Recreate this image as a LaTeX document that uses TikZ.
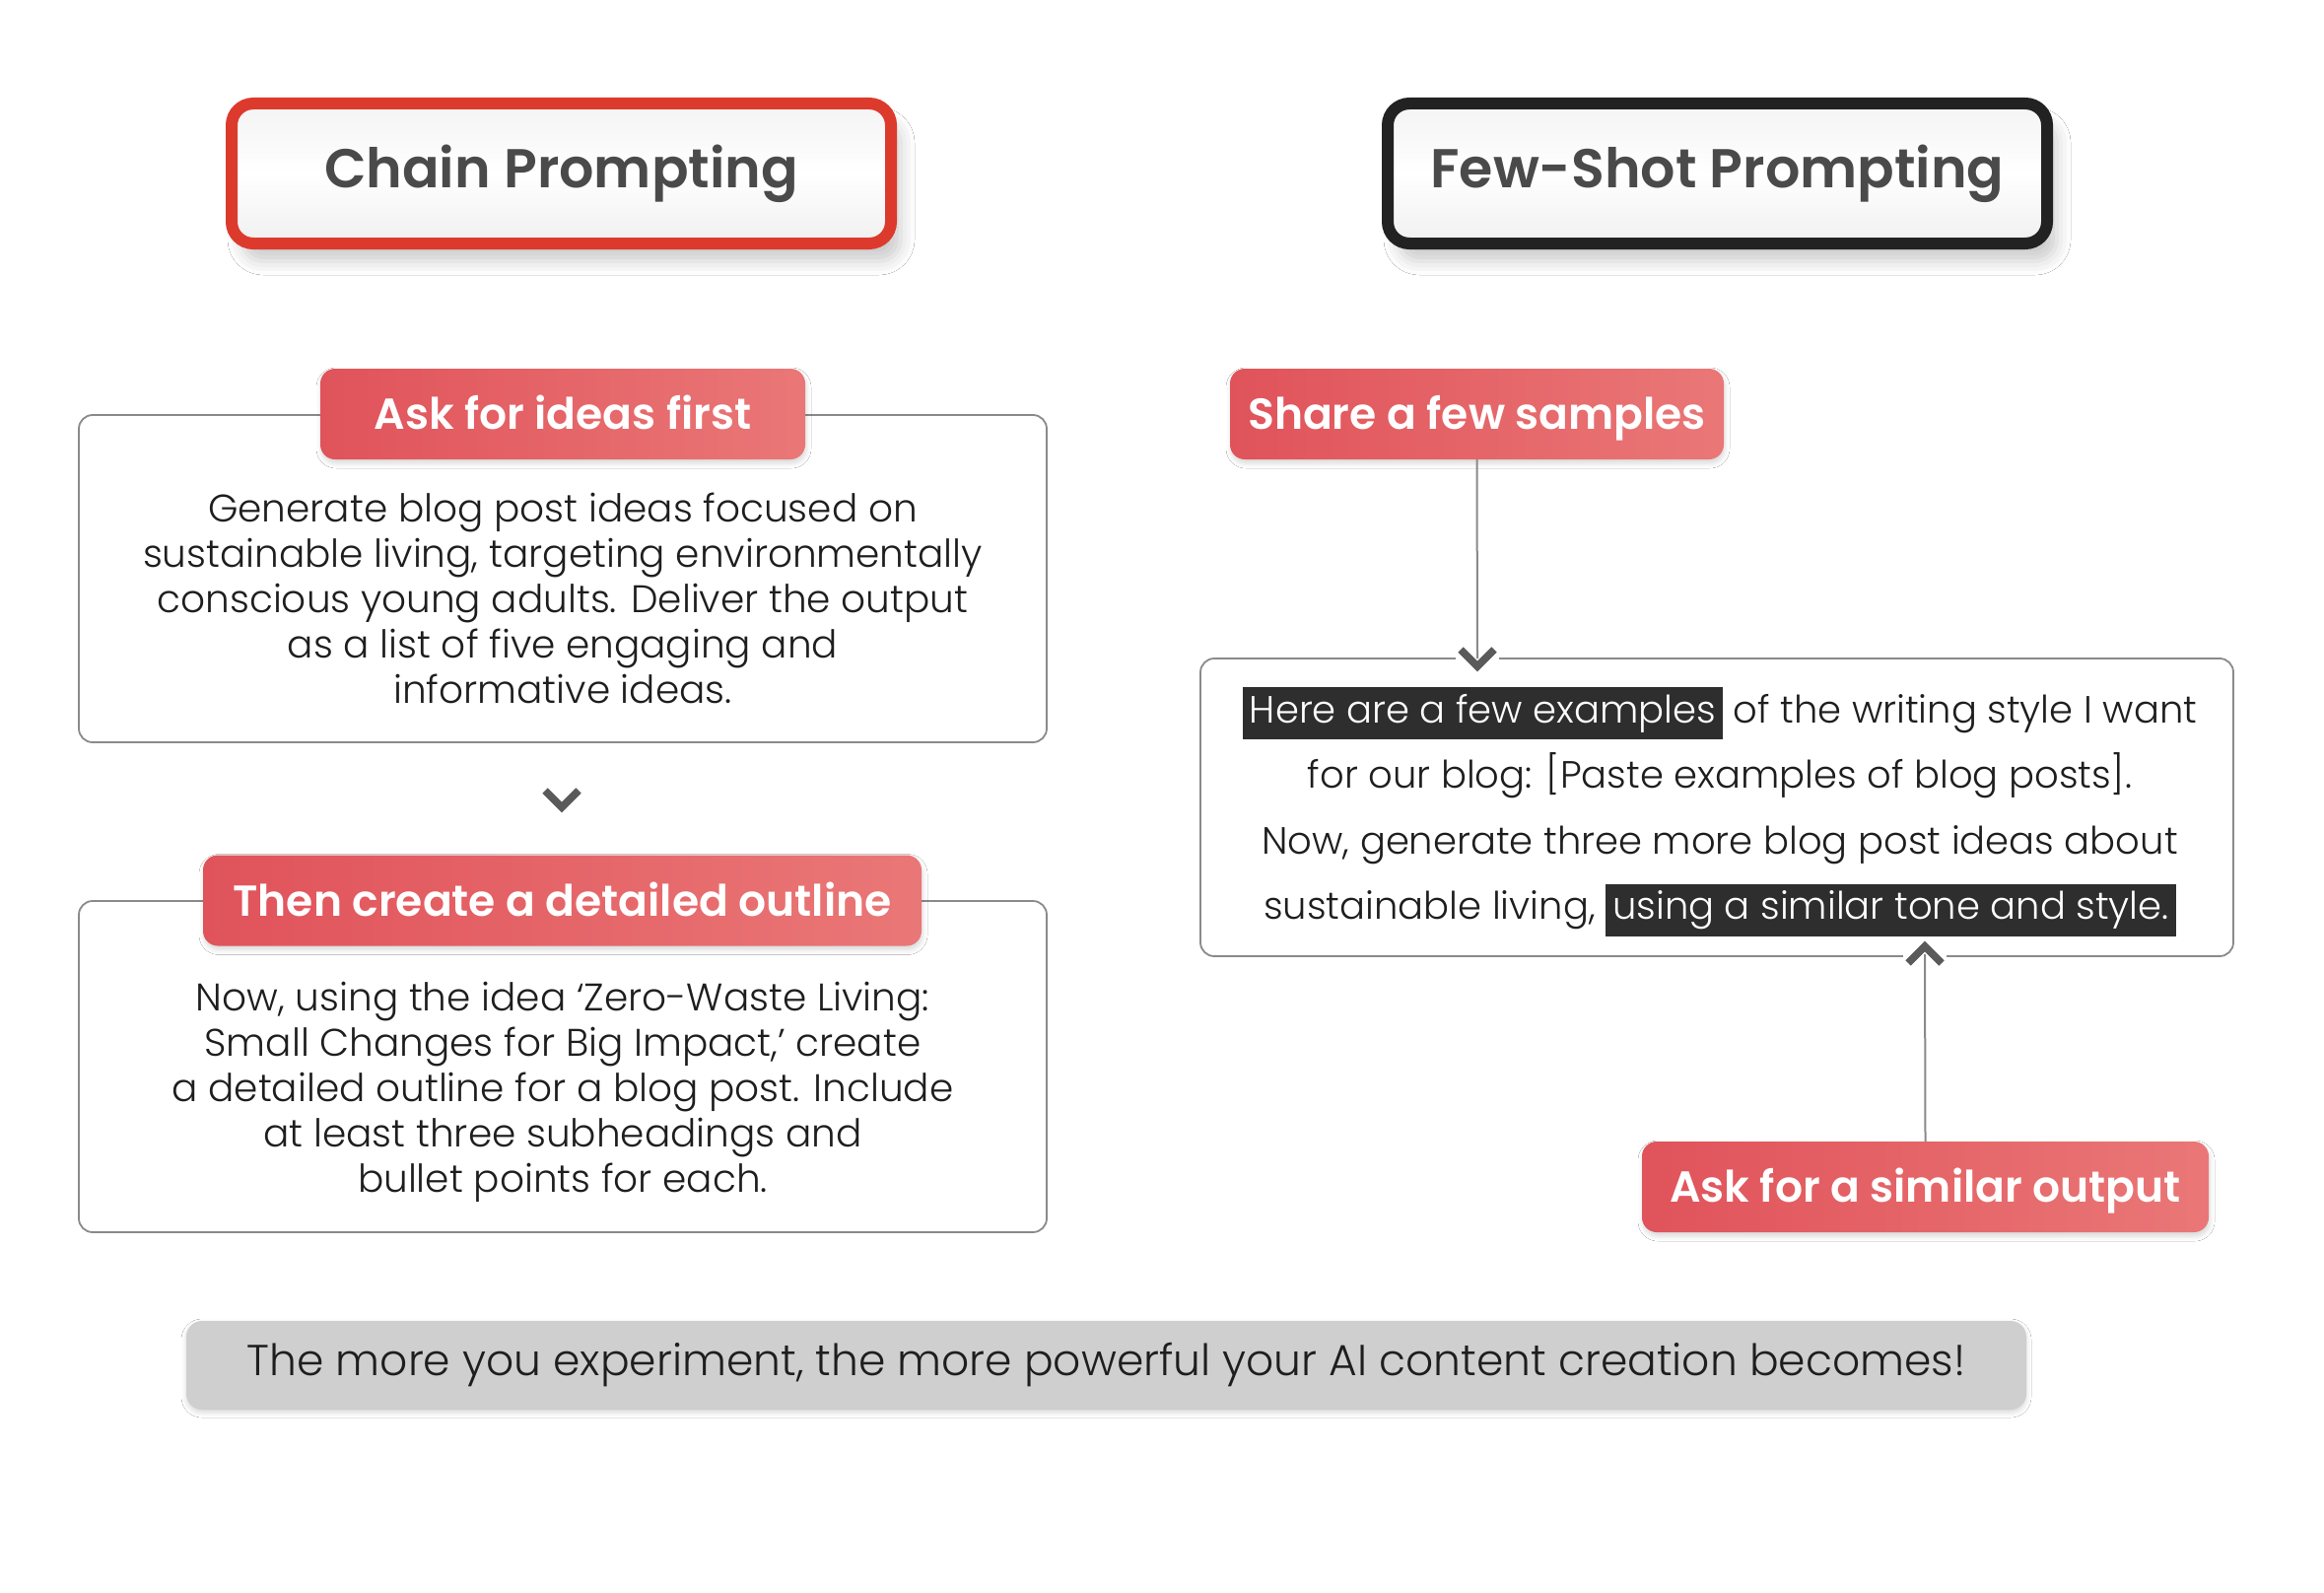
\documentclass[tikz,border=0pt]{standalone}
\usepackage{fontspec}
\setmainfont{Poppins}
\newfontfamily\lightfont{Poppins Light}
\newfontfamily\semifont{Poppins SemiBold}
\usetikzlibrary{shadows.blur,calc}
\definecolor{redA}{HTML}{E0535A}
\definecolor{redB}{HTML}{EA7777}
\definecolor{titleRed}{HTML}{DD3A2E}
\definecolor{titleBlack}{HTML}{222222}
\definecolor{titleText}{HTML}{4A4A4A}
\definecolor{boxLine}{HTML}{8A8A8A}
\definecolor{hlBg}{HTML}{2E2E2E}
\definecolor{chevGray}{HTML}{5A5A5A}
\definecolor{bannerGray}{HTML}{CFCFCF}
\definecolor{bodyText}{HTML}{1E1E1E}
\newcommand{\hlt}[1]{{\setlength{\fboxsep}{7pt}\colorbox{hlBg}{\textcolor{white}{#1}}}}
\tikzset{
  titlebox/.style={draw=#1, line width=12pt, rounded corners=22pt,
    minimum width=669pt, minimum height=142pt, top color=gray!9, bottom color=gray!12, middle color=white,
    text=titleText, font=\semifont\fontsize{55.5}{60}\selectfont,
    blur shadow={shadow xshift=10pt, shadow yshift=-18pt, shadow opacity=20, shadow blur radius=14pt}},
  panel/.style={draw=boxLine, line width=1.8pt, rounded corners=14pt, fill=white},
  redlabel/.style={rounded corners=15pt, left color=redA, right color=redB, text=white,
    font=\semifont\fontsize{44}{50}\selectfont, minimum height=92pt, text height=36pt, text depth=5pt,
    blur shadow={shadow xshift=1pt, shadow yshift=-4pt, shadow opacity=15, shadow blur radius=5pt}},
  bodytext/.style={align=center, text=bodyText, font=\lightfont\fontsize{39}{46}\selectfont},
  conn/.style={draw=boxLine, line width=2pt},
  chev/.style={draw=chevGray, line width=7.5pt, line join=miter},
  gap/.style={fill=white, draw=none, minimum width=44pt, minimum height=20pt, inner sep=0pt},
}
\begin{document}
\begin{tikzpicture}[x=1pt,y=-1pt]
\useasboundingbox[fill=white] (0,0) rectangle (2358,1616);

% titles
\node[titlebox=titleRed] (chainTitle) at (569.5,176) {\raisebox{-3pt}{Chain Prompting}};
\node[titlebox=titleBlack] (fewTitle) at (1742.5,176) {\raisebox{-3pt}{Few-Shot Prompting}};

% left column
\node[panel, minimum width=982pt, minimum height=332pt] (box1) at (571,587) {};
\node[bodytext] (text1) at (571,607) {Generate blog post ideas focused on\\sustainable living, targeting environmentally\\conscious young adults. Deliver the output\\as a list of five engaging and\\informative ideas.};
\node[redlabel, minimum width=492pt] (lab1) at (571,420) {Ask for ideas first};

\coordinate (chev1) at (570,819);
\draw[chev] ([shift={(-17,-17)}]chev1) -- (chev1) -- ([shift={(17,-17)}]chev1);

\node[panel, minimum width=982pt, minimum height=336pt] (box2) at (571,1082) {};
\node[bodytext] (text2) at (571,1107.5) {Now, using the idea ‘Zero-Waste Living:\\Small Changes for Big Impact,’ create\\a detailed outline for a blog post. Include\\at least three subheadings and\\bullet points for each.};
\node[redlabel, minimum width=729pt] (lab2) at (570.5,913.5) {Then create a detailed outline};

% right column
\node[panel, minimum width=1048pt, minimum height=302pt] (box3) at (1742,819) {};
\node[bodytext, font=\lightfont\fontsize{38.5}{66.6}\selectfont] (text3) at (1745,823.5) {\hlt{Here are a few examples} of the writing style I want\\for our blog: [Paste examples of blog posts].\\Now, generate three more blog post ideas about\\sustainable living, \hlt{using a similar tone and style.}};
\node[redlabel, minimum width=501pt] (share) at (1498.5,420) {Share a few samples};
\node[redlabel, minimum width=575pt] (asksim) at (1953.5,1204) {Ask for a similar output};

\coordinate (chev2) at (1499,676);
\node[gap] (gap2) at (1499,668) {};
\draw[conn] (share.south) -- ([yshift=8pt]chev2);
\draw[chev] ([shift={(-17,-17)}]chev2) -- (chev2) -- ([shift={(17,-17)}]chev2);

\coordinate (chev3) at (1953,960);
\node[gap] (gap3) at (1953,970) {};
\draw[conn] (asksim.north) -- ([yshift=-8pt]chev3);
\draw[chev] ([shift={(-17,17)}]chev3) -- (chev3) -- ([shift={(17,17)}]chev3);

% banner
\node[fill=bannerGray, rounded corners=16pt, minimum width=1867pt, minimum height=90pt,
  text=bodyText, font=\lightfont\fontsize{44}{48}\selectfont,
  blur shadow={shadow xshift=0pt, shadow yshift=-3pt, shadow opacity=15, shadow blur radius=5pt}]
  (banner) at (1122.5,1385) {\raisebox{-3pt}{The more you experiment, the more powerful your AI content creation becomes!}};
\end{tikzpicture}
\end{document}
